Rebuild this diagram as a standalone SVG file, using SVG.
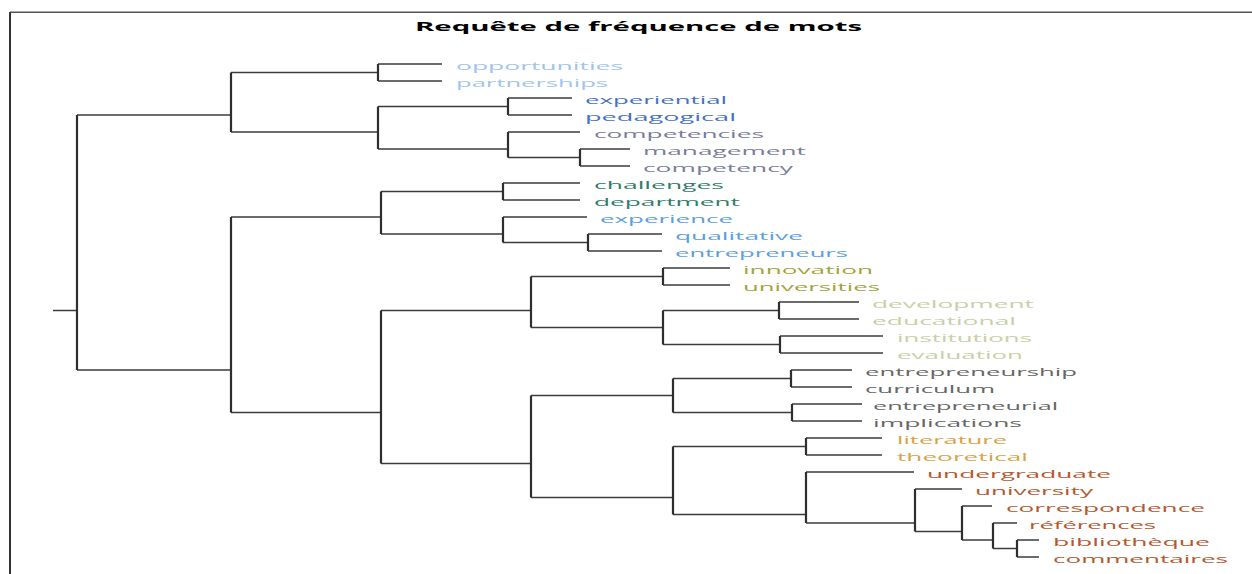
<svg xmlns="http://www.w3.org/2000/svg" width="1252" height="574" viewBox="0 0 1252 574">
<style>
.t{font-family:"Open Sans","Liberation Sans",sans-serif;font-size:11px}
.ttl{font-family:"Open Sans","Liberation Sans",sans-serif;font-size:12px;font-weight:bold;fill:#000}
.h{stroke:#3c3c3c;stroke-width:1.4;fill:none}
.v{stroke:#2e2e2e;stroke-width:2.2;fill:none}
.c1{fill:#9fc5ec}.c2{fill:#4472c4}.c3{fill:#7a7c9c}.c4{fill:#2f7d6b}.c5{fill:#5b9fe2}
.c6{fill:#a3a33c}.c7{fill:#c6d1a6}.c8{fill:#666666}.c9{fill:#d6a447}.c10{fill:#b5582e}
</style>
<rect width="1252" height="574" fill="#fff"/>
<g id="frame">
<line x1="10" y1="12.3" x2="1252" y2="12.3" stroke="#555" stroke-width="1.5"/>
<line x1="10" y1="12" x2="10" y2="574" stroke="#333" stroke-width="2"/>
</g>
<g id="title"><text class="ttl" x="415" y="31" textLength="447" lengthAdjust="spacingAndGlyphs">Requête de fréquence de mots</text></g>
<g id="connectors">
<path class="h" d="M53 310.5H77M77 115H231M77 370H231M231 72.5H378M231 132H378M378 64H442M378 81H442M378 106.5H508M378 149H508M508 98H572M508 115H572M508 132H580M508 157.5H580M580 149H630M580 166H630"/>
<path class="v" d="M77 115V370M231 72.5V132M378 64V81M378 106.5V149M508 98V115M508 132V157.5M580 149V166"/>
<path class="h" d="M231 217H381M231 412.5H381M381 191.5H503M381 234H503M503 183H580M503 200H580M503 217H587M503 242.5H588M588 234H662M588 251H662"/>
<path class="v" d="M231 217V412.5M381 191.5V234M503 183V200M503 217V242.5M588 234V251"/>
<path class="h" d="M381 310.5H531M381 463.5H531M531 276.5H663M531 327.5H663M663 268H730M663 285H730M663 310.5H779M663 344.5H780M779 302H859M779 319H859M780 336H883M780 353H883"/>
<path class="v" d="M381 310.5V463.5M531 276.5V327.5M663 268V285M663 310.5V344.5M779 302V319M780 336V353"/>
<path class="h" d="M531 395.5H673M531 497.5H673M673 378.5H791M673 412.5H792M791 370H852M791 387H852M792 404H862M792 421H862M673 446.5H806M673 514.5H806M806 438H882M806 455H882M806 472H914M806 523H915M915 489H962M915 531.5H962M962 506H992M962 540H993M993 523H1017M993 548.5H1017M1017 540H1039M1017 557H1039"/>
<path class="v" d="M531 395.5V497.5M673 378.5V412.5M791 370V387M792 404V421M673 446.5V514.5M806 438V455M806 472V523M915 489V531.5M962 506V540M993 523V548.5M1017 540V557"/>
</g>
<g id="n-opportunities"><text class="t c1" x="456" y="69.5" textLength="167" lengthAdjust="spacingAndGlyphs">opportunities</text></g>
<g id="n-partnerships"><text class="t c1" x="456" y="86.5" textLength="152" lengthAdjust="spacingAndGlyphs">partnerships</text></g>
<g id="n-experiential"><text class="t c2" x="585" y="103.5" textLength="142" lengthAdjust="spacingAndGlyphs">experiential</text></g>
<g id="n-pedagogical"><text class="t c2" x="585" y="120.5" textLength="151" lengthAdjust="spacingAndGlyphs">pedagogical</text></g>
<g id="n-competencies"><text class="t c3" x="594" y="137.5" textLength="170" lengthAdjust="spacingAndGlyphs">competencies</text></g>
<g id="n-management"><text class="t c3" x="643" y="154.5" textLength="163" lengthAdjust="spacingAndGlyphs">management</text></g>
<g id="n-competency"><text class="t c3" x="643" y="171.5" textLength="150" lengthAdjust="spacingAndGlyphs">competency</text></g>
<g id="n-challenges"><text class="t c4" x="594" y="188.5" textLength="130" lengthAdjust="spacingAndGlyphs">challenges</text></g>
<g id="n-department"><text class="t c4" x="594" y="205.5" textLength="146" lengthAdjust="spacingAndGlyphs">department</text></g>
<g id="n-experience"><text class="t c5" x="600" y="222.5" textLength="133" lengthAdjust="spacingAndGlyphs">experience</text></g>
<g id="n-qualitative"><text class="t c5" x="675" y="239.5" textLength="128" lengthAdjust="spacingAndGlyphs">qualitative</text></g>
<g id="n-entrepreneurs"><text class="t c5" x="675" y="256.5" textLength="173" lengthAdjust="spacingAndGlyphs">entrepreneurs</text></g>
<g id="n-innovation"><text class="t c6" x="743" y="273.5" textLength="130" lengthAdjust="spacingAndGlyphs">innovation</text></g>
<g id="n-universities"><text class="t c6" x="743" y="290.5" textLength="137" lengthAdjust="spacingAndGlyphs">universities</text></g>
<g id="n-development"><text class="t c7" x="872" y="307.5" textLength="162" lengthAdjust="spacingAndGlyphs">development</text></g>
<g id="n-educational"><text class="t c7" x="872" y="324.5" textLength="144" lengthAdjust="spacingAndGlyphs">educational</text></g>
<g id="n-institutions"><text class="t c7" x="897" y="341.5" textLength="135" lengthAdjust="spacingAndGlyphs">institutions</text></g>
<g id="n-evaluation"><text class="t c7" x="897" y="358.5" textLength="126" lengthAdjust="spacingAndGlyphs">evaluation</text></g>
<g id="n-entrepreneurship"><text class="t c8" x="865" y="375.5" textLength="212" lengthAdjust="spacingAndGlyphs">entrepreneurship</text></g>
<g id="n-curriculum"><text class="t c8" x="865" y="392.5" textLength="130" lengthAdjust="spacingAndGlyphs">curriculum</text></g>
<g id="n-entrepreneurial"><text class="t c8" x="873" y="409.5" textLength="185" lengthAdjust="spacingAndGlyphs">entrepreneurial</text></g>
<g id="n-implications"><text class="t c8" x="873" y="426.5" textLength="149" lengthAdjust="spacingAndGlyphs">implications</text></g>
<g id="n-literature"><text class="t c9" x="897" y="443.5" textLength="110" lengthAdjust="spacingAndGlyphs">literature</text></g>
<g id="n-theoretical"><text class="t c9" x="897" y="460.5" textLength="131" lengthAdjust="spacingAndGlyphs">theoretical</text></g>
<g id="n-undergraduate"><text class="t c10" x="927" y="477.5" textLength="184" lengthAdjust="spacingAndGlyphs">undergraduate</text></g>
<g id="n-university"><text class="t c10" x="975" y="494.5" textLength="118" lengthAdjust="spacingAndGlyphs">university</text></g>
<g id="n-correspondence"><text class="t c10" x="1006" y="511.5" textLength="199" lengthAdjust="spacingAndGlyphs">correspondence</text></g>
<g id="n-references"><text class="t c10" x="1029" y="528.5" textLength="127" lengthAdjust="spacingAndGlyphs">références</text></g>
<g id="n-bibliotheque"><text class="t c10" x="1053" y="545.5" textLength="157" lengthAdjust="spacingAndGlyphs">bibliothèque</text></g>
<g id="n-commentaires"><text class="t c10" x="1053" y="562.5" textLength="175" lengthAdjust="spacingAndGlyphs">commentaires</text></g>
</svg>
